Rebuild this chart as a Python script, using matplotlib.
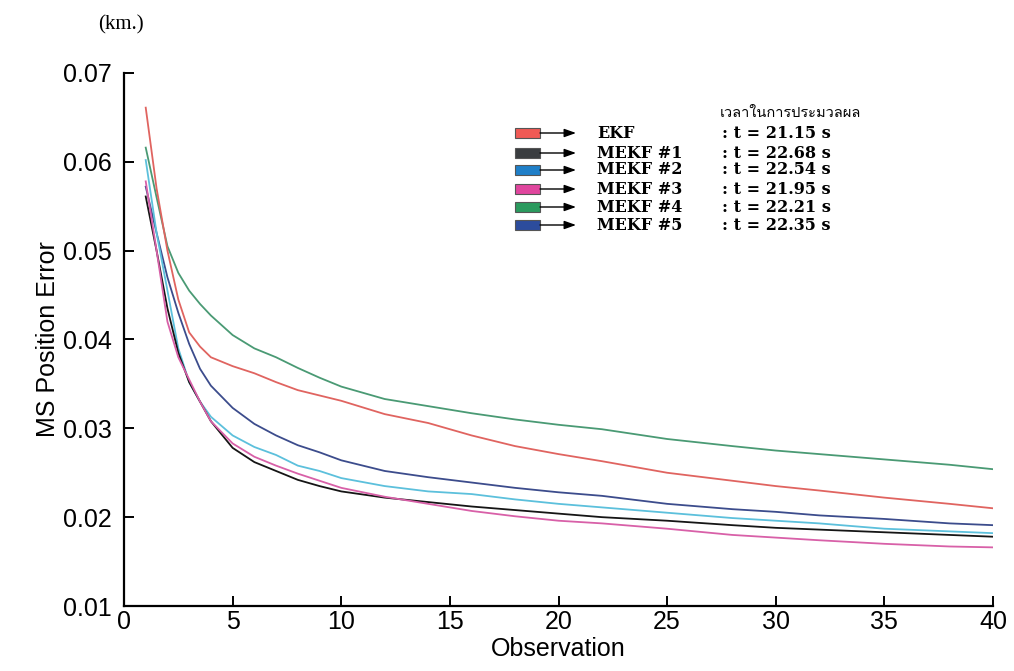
import numpy as np
import matplotlib
matplotlib.use('Agg')
import matplotlib.pyplot as plt
from matplotlib import font_manager
from matplotlib.ft2font import FT2Font
from matplotlib.patches import Rectangle, FancyArrowPatch

# observation points
obs = [1, 1.5, 2, 2.5, 3, 3.5, 4, 5, 6, 7, 8, 9, 10, 12, 14, 16, 18, 20,
       22, 25, 28, 30, 32, 35, 38, 40]

ekf = [0.0661, 0.0570, 0.0500, 0.0445, 0.0408, 0.0392, 0.0380, 0.0370, 0.0362,
       0.0352, 0.0343, 0.0337, 0.0331, 0.0316, 0.0306, 0.0292, 0.0280, 0.0271,
       0.0263, 0.0250, 0.0241, 0.0235, 0.0230, 0.0222, 0.0215, 0.0210]
mekf1 = [0.0561, 0.0500, 0.0435, 0.0385, 0.0352, 0.0330, 0.0308, 0.0278, 0.0262,
         0.0252, 0.0242, 0.0235, 0.0229, 0.0222, 0.0217, 0.0212, 0.0208, 0.0204,
         0.0200, 0.0196, 0.0191, 0.0188, 0.0186, 0.0183, 0.0180, 0.0178]
mekf2 = [0.0602, 0.0520, 0.0455, 0.0390, 0.0352, 0.0330, 0.0313, 0.0292, 0.0279,
         0.0270, 0.0258, 0.0252, 0.0244, 0.0235, 0.0229, 0.0226, 0.0220, 0.0215,
         0.0211, 0.0205, 0.0199, 0.0196, 0.0193, 0.0187, 0.0184, 0.0182]
mekf3 = [0.0578, 0.0500, 0.0420, 0.0380, 0.0355, 0.0330, 0.0308, 0.0283, 0.0268,
         0.0258, 0.0249, 0.0241, 0.0233, 0.0223, 0.0215, 0.0207, 0.0201, 0.0196,
         0.0193, 0.0187, 0.0180, 0.0177, 0.0174, 0.0170, 0.0167, 0.0166]
mekf4 = [0.0616, 0.0560, 0.0505, 0.0475, 0.0455, 0.0440, 0.0427, 0.0405, 0.0390,
         0.0380, 0.0368, 0.0357, 0.0347, 0.0333, 0.0325, 0.0317, 0.0310, 0.0304,
         0.0299, 0.0288, 0.0280, 0.0275, 0.0271, 0.0265, 0.0259, 0.0254]
mekf5 = [0.0572, 0.0520, 0.0470, 0.0430, 0.0395, 0.0367, 0.0348, 0.0323, 0.0305,
         0.0292, 0.0281, 0.0273, 0.0264, 0.0252, 0.0245, 0.0239, 0.0233, 0.0228,
         0.0224, 0.0215, 0.0209, 0.0206, 0.0202, 0.0198, 0.0193, 0.0191]

names = ['EKF', 'MEKF #1', 'MEKF #2', 'MEKF #3', 'MEKF #4', 'MEKF #5']
times = [': t = 21.15 s', ': t = 22.68 s', ': t = 22.54 s', ': t = 21.95 s',
         ': t = 22.21 s', ': t = 22.35 s']
header = 'เวลาในการประมวลผล'

line_colors = ['#e06460', '#151515', '#5cc0dc', '#d860a8', '#4a9a74', '#3c4c8c']
box_colors = ['#f05a55', '#3a3d40', '#1f7fc8', '#e0469e', '#2a9a5e', '#2c4c9c']

# find a font that can draw Thai
thai_font = None
for f in font_manager.fontManager.ttflist:
    try:
        if ord('ว') in FT2Font(f.fname).get_charmap():
            thai_font = f.name
            break
    except Exception:
        pass

W, H = 1014, 671
fig = plt.figure(figsize=(W / 100, H / 100), dpi=100)
ax = fig.add_axes([124 / W, 1 - 606 / H, (993 - 124) / W, (606 - 73) / H])

all_series = [ekf, mekf1, mekf2, mekf3, mekf4, mekf5]
for i in [4, 0, 5, 2, 1, 3]:
    ax.plot(obs, all_series[i], color=line_colors[i], lw=1.3)

ax.set_xlim(0, 40)
ax.set_ylim(0.01, 0.07)
ax.set_xticks(np.arange(0, 41, 5))
ax.set_yticks([0.01, 0.02, 0.03, 0.04, 0.05, 0.06, 0.07])
ax.set_yticklabels(['0.01', '0.02', '0.03', '0.04', '0.05', '0.06', '0.07'])
ax.spines['top'].set_visible(False)
ax.spines['right'].set_visible(False)
ax.spines['left'].set_linewidth(1.6)
ax.spines['bottom'].set_linewidth(1.6)
ax.tick_params(direction='in', length=7, width=1.4, labelsize=18)
ax.tick_params(axis='y', pad=9)
ax.tick_params(axis='x', pad=3)
for lab in ax.get_xticklabels() + ax.get_yticklabels():
    lab.set_family('Liberation Sans')
ax.set_xlabel('Observation', fontsize=18, family='Liberation Sans', labelpad=2)
ax.set_ylabel('MS Position Error', fontsize=18, family='Liberation Sans', labelpad=2)

fig.text(121 / W, 1 - 25 / H, '(km.)', ha='center', va='center',
         fontsize=15, family='Liberation Serif')

# legend drawn by hand: box, arrow, name, time
fam = ['DejaVu Serif']
if thai_font:
    fig.text(720 / W, 1 - 113 / H, header, ha='left', va='center', fontsize=10.5,
             family=[thai_font, 'DejaVu Sans'])
rows = [133, 153, 170, 189, 207, 225]
for k, py in enumerate(rows):
    yf = 1 - py / H
    fig.patches.append(Rectangle((515 / W, yf - 5 / H), 25 / W, 10 / H,
                                 transform=fig.transFigure, facecolor=box_colors[k],
                                 edgecolor='#555555', lw=0.8))
    fig.patches.append(FancyArrowPatch((540 / W, yf), (576 / W, yf),
                                       transform=fig.transFigure,
                                       arrowstyle='-|>,head_length=7,head_width=2.5',
                                       color='black', lw=1.0, shrinkA=0, shrinkB=0,
                                       mutation_scale=1))
    fig.text(597 / W, yf, names[k], ha='left', va='center', fontsize=11.5,
             family=fam, weight='bold')
    fig.text(722 / W, yf, times[k], ha='left', va='center', fontsize=11.5,
             family=fam, weight='bold')

fig.savefig('out.png', dpi=100)
